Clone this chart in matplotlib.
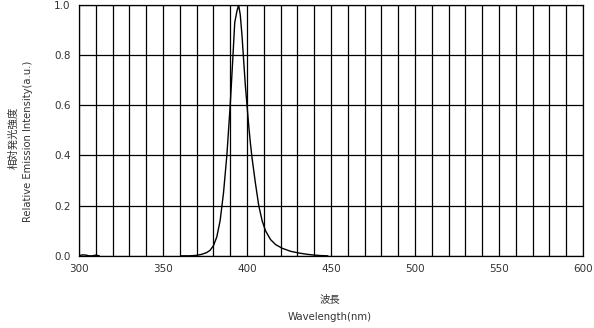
import matplotlib.pyplot as plt
import numpy as np

# short-wavelength stray signal
wl_low = [300, 302, 304, 306, 308, 310, 312]
int_low = [0.0, 0.004, 0.003, 0.0, 0.0, 0.003, 0.0]

# main emission peak
wl_peak = [361, 366, 370, 373, 376, 378, 380, 382, 384, 386, 388, 390, 391.5,
           392.7, 394, 395, 396, 397, 398, 399, 400, 401, 402, 403, 405,
           407, 409, 411, 414, 417, 421, 426, 431, 436, 440, 444, 448]
int_peak = [0.0, 0.0, 0.002, 0.006, 0.013, 0.022, 0.04, 0.075, 0.14, 0.25,
            0.4, 0.6, 0.78, 0.93, 0.975, 1.0, 0.96, 0.88, 0.78, 0.68, 0.6,
            0.52, 0.45, 0.39, 0.29, 0.2, 0.14, 0.1, 0.065, 0.045, 0.03,
            0.018, 0.011, 0.006, 0.003, 0.001, 0.0]

xticks = [300, 350, 400, 450, 500, 550, 600]
yticks = [0.0, 0.2, 0.4, 0.6, 0.8, 1.0]

fig = plt.figure(figsize=(5.94, 3.28), dpi=100)
ax = fig.add_axes([0.133, 0.22, 0.8485, 0.765])

ax.plot(wl_low, int_low, color='black', linewidth=1)
ax.plot(wl_peak, int_peak, color='black', linewidth=1)

ax.set_xlim(300, 600)
ax.set_ylim(0, 1.0)
ax.set_xticks(np.arange(300, 601, 10), minor=True)
ax.set_xticks(xticks)
ax.set_yticks(yticks)
ax.set_yticklabels(['%.1f' % v for v in yticks])
ax.grid(True, which='both', axis='x', color='black', linewidth=0.9)
ax.grid(True, which='major', axis='y', color='black', linewidth=0.9)
ax.tick_params(which='both', length=0, labelsize=7.5, colors='#333333', pad=6)
for s in ax.spines.values():
    s.set_linewidth(0.9)

cjk = ['Noto Sans CJK JP', 'DejaVu Sans']
fig.text(0.5556, 0.088, '波長', ha='center', va='center', fontsize=7.5,
         family=cjk, color='#333333')
fig.text(0.5556, 0.033, 'Wavelength(nm)', ha='center', va='center',
         fontsize=7.3, color='#333333')
fig.text(0.022, 0.58, '相対発光強度', ha='center', va='center', fontsize=7.5,
         rotation=90, family=cjk, color='#333333')
fig.text(0.047, 0.57, 'Relative Emission Intensity(a.u.)', ha='center',
         va='center', fontsize=7.2, rotation=90, color='#333333')

fig.savefig('out.png', dpi=100)
